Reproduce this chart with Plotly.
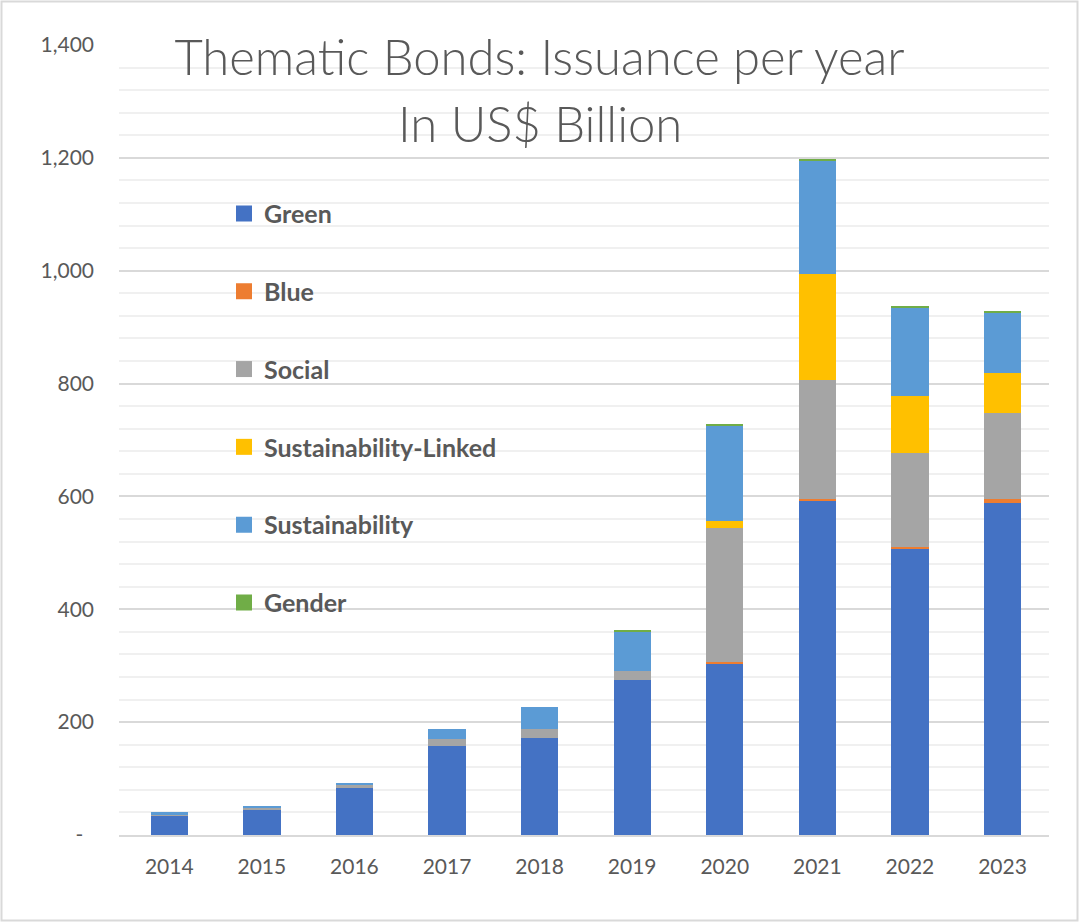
import plotly.graph_objects as go

# Thematic bond issuance per year, US$ billion
years = ["2014", "2015", "2016", "2017", "2018", "2019", "2020", "2021", "2022", "2023"]
green = [35, 44, 85, 158, 172, 274, 304, 592, 508, 589]
blue = [0, 0, 0, 0, 0, 0, 2, 3, 2.5, 7]
social = [2, 4, 3, 12, 16, 17, 238, 212, 167, 152]
sustainability_linked = [0, 0, 0, 0, 0, 0, 12, 188, 100, 70]
sustainability = [3, 3, 4, 18, 39, 69, 169, 200, 157, 108]
gender = [0, 0, 0, 0, 0, 1.8, 2, 2.3, 3, 2]

series_names = ["Green", "Blue", "Social", "Sustainability-Linked", "Sustainability", "Gender"]
series_values = [green, blue, social, sustainability_linked, sustainability, gender]
series_colors = ["#4472C4", "#ED7D31", "#A5A5A5", "#FFC000", "#5B9BD5", "#70AD47"]

y_ticks = [0, 200, 400, 600, 800, 1000, 1200, 1400]
y_ticktext = ["-\u00a0\u00a0", "200", "400", "600", "800", "1,000", "1,200", "1,400"]

title_line1 = "Thematic Bonds: Issuance per year"
title_line2 = "In US$ Billion"

TEXT = "#595959"
FONT = "Lato"

fig = go.Figure()

for name, vals, col in zip(series_names, series_values, series_colors):
    fig.add_trace(go.Bar(
        x=years, y=vals, name=name, marker=dict(color=col, line=dict(width=0)),
        showlegend=False, legendgroup=name,
    ))

# legend keys: square swatches, one group each so the entries sit far apart
for name, col in zip(series_names, series_colors):
    fig.add_trace(go.Scatter(
        x=[None], y=[None], mode="markers", name=name, legendgroup=name,
        marker=dict(symbol="square", size=16, color=col, line=dict(width=0)),
        hoverinfo="skip",
    ))

W, H = 1079, 922
ML, MR, MT, MB = 119, 30, 45, 87
pw, ph = W - ML - MR, H - MT - MB


def px_x(x):
    return (x - ML) / pw


def px_y(y):
    return (H - MB - y) / ph


fig.update_layout(
    width=W, height=H,
    margin=dict(l=ML, r=MR, t=MT, b=MB),
    paper_bgcolor="white", plot_bgcolor="white",
    barmode="stack", bargap=0.597,
    font=dict(family=FONT, color=TEXT),
    title=dict(
        text=title_line1,
        font=dict(family=FONT, size=49, color=TEXT, weight=300),
        x=0.5, xref="container", xanchor="center",
        y=1 - 41 / H, yref="container", yanchor="top",
    ),
    annotations=[dict(
        text=title_line2, xref="paper", yref="paper",
        x=px_x(W / 2), y=px_y(92), xanchor="center", yanchor="top",
        showarrow=False, font=dict(family=FONT, size=49, color=TEXT, weight=300),
    )],
    legend=dict(
        x=px_x(224), y=px_y(190.7), xanchor="left", yanchor="top",
        font=dict(family=FONT, size=25, color=TEXT, weight="bold"),
        tracegroupgap=42.3, bgcolor="rgba(0,0,0,0)", borderwidth=0,
    ),
    xaxis=dict(
        type="category", range=[-0.543, 9.502],
        showgrid=False, showline=True, linecolor="#D9D9D9", linewidth=2,
        ticks="", tickfont=dict(family=FONT, size=21, color=TEXT),
        ticklabelstandoff=12,
    ),
    yaxis=dict(
        range=[0, 1400], tickvals=y_ticks, ticktext=y_ticktext,
        showgrid=True, gridcolor="#D9D9D9", gridwidth=2,
        minor=dict(dtick=40, tick0=0, showgrid=True, gridcolor="#F0F0F0", gridwidth=1.5),
        zeroline=False, showline=False, ticks="",
        tickfont=dict(family=FONT, size=21, color=TEXT),
        ticklabelstandoff=24,
    ),
    shapes=[dict(
        type="rect", xref="paper", yref="paper",
        x0=px_x(1.5), x1=px_x(W - 1.5),
        y0=px_y(H - 1.5), y1=px_y(1.5),
        line=dict(color="#D9D9D9", width=2), fillcolor="rgba(0,0,0,0)", layer="below",
    )],
)

fig.write_html("out.html")
